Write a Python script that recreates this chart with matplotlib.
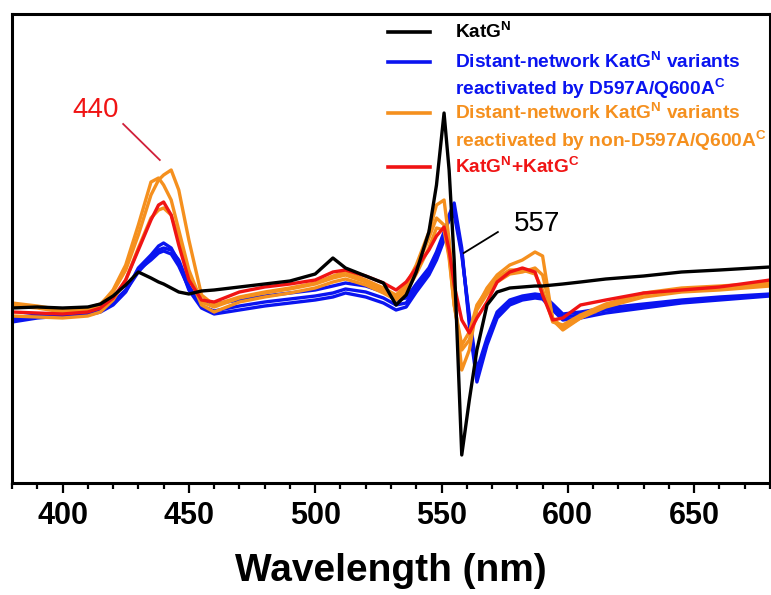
import numpy as np
import matplotlib
matplotlib.use("Agg")
import matplotlib.pyplot as plt

plt.rcParams['font.family'] = ['Liberation Sans', 'DejaVu Sans']
plt.rcParams['mathtext.fontset'] = 'custom'
plt.rcParams['mathtext.rm'] = 'Liberation Sans'
plt.rcParams['mathtext.bf'] = 'Liberation Sans:bold'

# wavelength grid (nm) shared by every trace
wl = [380, 390, 400, 410, 415, 420, 425, 430, 435, 438, 440, 443, 446, 450,
      455, 460, 470, 480, 490, 500, 507, 512, 520, 527, 532, 536, 540, 545,
      548, 551, 553, 555, 558, 561, 564, 568, 572, 577, 582, 587, 590, 594,
      598, 605, 615, 630, 645, 660, 680]

# derivative spectra, arbitrary units
katg_n = [0.02, 0.03, 0.02, 0.03, 0.06, 0.14, 0.25, 0.38, 0.32, 0.28, 0.26, 0.22,
          0.18, 0.16, 0.19, 0.20, 0.23, 0.26, 0.29, 0.36, 0.52, 0.42, 0.34, 0.27,
          0.05, 0.15, 0.38, 0.78, 1.25, 1.97, 1.40, 0.50, -1.45, -0.90, -0.40,
          0.05, 0.18, 0.22, 0.23, 0.24, 0.24, 0.25, 0.26, 0.28, 0.31, 0.34,
          0.38, 0.40, 0.43]

blue_a = [-0.12, -0.08, -0.06, -0.05, -0.02, 0.05, 0.18, 0.42, 0.55, 0.64, 0.67,
          0.62, 0.48, 0.20, 0.02, -0.04, 0.00, 0.04, 0.07, 0.10, 0.13, 0.17, 0.13,
          0.07, 0.00, 0.03, 0.18, 0.35, 0.50, 0.70, 0.95, 1.07, 0.62, -0.15,
          -0.72, -0.35, -0.08, 0.05, 0.10, 0.12, 0.11, 0.00, -0.10, -0.08, -0.03,
          0.02, 0.07, 0.10, 0.14]
blue_b = [-0.08, -0.05, -0.04, -0.02, 0.00, 0.08, 0.20, 0.40, 0.50, 0.57, 0.59,
          0.56, 0.44, 0.22, 0.08, 0.06, 0.10, 0.14, 0.17, 0.20, 0.24, 0.27, 0.24,
          0.18, 0.10, 0.12, 0.26, 0.42, 0.58, 0.78, 0.90, 0.96, 0.55, -0.05,
          -0.60, -0.28, -0.02, 0.10, 0.14, 0.16, 0.15, 0.06, -0.04, -0.02, 0.02,
          0.06, 0.10, 0.13, 0.16]
blue_c = [-0.10, -0.07, -0.05, -0.04, -0.01, 0.06, 0.19, 0.38, 0.52, 0.60, 0.62,
          0.60, 0.50, 0.24, 0.04, -0.01, 0.04, 0.08, 0.11, 0.14, 0.17, 0.21, 0.18,
          0.12, 0.05, 0.07, 0.22, 0.38, 0.54, 0.74, 0.92, 1.00, 0.58, -0.10,
          -0.66, -0.32, -0.05, 0.07, 0.12, 0.14, 0.13, 0.03, -0.07, -0.05, 0.00,
          0.04, 0.08, 0.11, 0.15]

orange_a = [0.07, 0.04, 0.00, 0.02, 0.06, 0.18, 0.40, 0.75, 1.15, 1.30, 1.35, 1.40,
            1.20, 0.70, 0.15, 0.05, 0.13, 0.18, 0.22, 0.27, 0.34, 0.38, 0.30, 0.22,
            0.15, 0.25, 0.45, 0.78, 1.05, 1.10, 0.70, 0.15, -0.60, -0.40, 0.03,
            0.22, 0.35, 0.45, 0.50, 0.58, 0.54, -0.10, -0.20, -0.08, 0.05, 0.17,
            0.22, 0.24, 0.27]
orange_b = [0.04, 0.02, -0.02, 0.00, 0.05, 0.20, 0.45, 0.85, 1.28, 1.32, 1.25, 1.10,
            0.80, 0.40, 0.08, 0.03, 0.12, 0.17, 0.21, 0.26, 0.32, 0.35, 0.28, 0.20,
            0.12, 0.22, 0.42, 0.72, 0.92, 0.85, 0.55, 0.05, -0.35, -0.22, 0.05,
            0.20, 0.32, 0.40, 0.40, 0.36, 0.20, -0.12, -0.15, -0.05, 0.06, 0.16,
            0.21, 0.23, 0.26]
orange_c = [-0.06, -0.07, -0.08, -0.06, -0.02, 0.10, 0.30, 0.62, 0.92, 1.00, 1.02,
            0.95, 0.72, 0.35, 0.05, -0.02, 0.08, 0.13, 0.17, 0.22, 0.28, 0.31, 0.25,
            0.17, 0.10, 0.18, 0.36, 0.62, 0.82, 0.80, 0.52, 0.05, -0.40, -0.30,
            0.00, 0.16, 0.28, 0.36, 0.38, 0.42, 0.35, -0.08, -0.18, -0.08, 0.03,
            0.13, 0.18, 0.20, 0.24]

red_nc = [-0.02, -0.03, -0.04, -0.02, 0.02, 0.12, 0.30, 0.60, 0.90, 1.05, 1.08,
          0.95, 0.65, 0.30, 0.10, 0.08, 0.18, 0.23, 0.26, 0.30, 0.38, 0.40, 0.34,
          0.27, 0.20, 0.28, 0.42, 0.60, 0.74, 0.83, 0.60, 0.25, -0.10, -0.23,
          -0.08, 0.08, 0.28, 0.38, 0.42, 0.38, 0.15, -0.10, -0.08, 0.05, 0.10,
          0.17, 0.20, 0.23, 0.30]

c_black = '#000000'
c_blue = '#0a14f0'
c_orange = '#f5901e'
c_red = '#f01414'

fig = plt.figure(figsize=(7.71, 5.95), dpi=100)
ax = fig.add_axes([12 / 771, 112 / 595, 758 / 771, 469 / 595])

lw = 2.4
for y in (blue_a, blue_b, blue_c):
    ax.plot(wl, y, color=c_blue, lw=lw)
for y in (orange_a, orange_b, orange_c):
    ax.plot(wl, y, color=c_orange, lw=lw)
ax.plot(wl, red_nc, color=c_red, lw=lw)
ax.plot(wl, katg_n, color=c_black, lw=lw)

ax.set_xlim(380, 680)
ax.set_ylim(-1.73, 2.96)
ax.set_xticks(np.arange(400, 651, 50))
ax.set_xticks(np.arange(380, 681, 10), minor=True)
ax.set_yticks([])
ax.tick_params(axis='x', which='major', direction='out', length=7, width=1.6,
               labelsize=22, pad=6)
ax.tick_params(axis='x', which='minor', direction='out', length=4, width=1.6)
for lab in ax.get_xticklabels():
    lab.set_fontweight('bold')
for s in ax.spines.values():
    s.set_linewidth(2.2)
ax.set_xlabel('Wavelength (nm)', fontsize=28, fontweight='bold', labelpad=16)

# peak annotations
ax.text(413, 2.0, '440', color=c_red, fontsize=20, ha='center', va='center')
ax.plot([424, 438.5], [1.86, 1.50], color='#d0203a', lw=1.3)
ax.text(588, 0.86, '557', color=c_black, fontsize=20, ha='center', va='center')
ax.plot([572.3, 558.8], [0.78, 0.57], color=c_black, lw=1.3)

# legend drawn by hand so multi-line labels keep the handle on the first line
leg = [
    (c_black, r'KatG$^{\mathbf{N}}$', 0.962, [0.962]),
    (c_blue, 'Distant-network KatG$^{\\mathbf{N}}$ variants\nreactivated by D597A/Q600A$^{\\mathbf{C}}$',
     0.898, [0.898, 0.842]),
    (c_orange, 'Distant-network KatG$^{\\mathbf{N}}$ variants\nreactivated by non-D597A/Q600A$^{\\mathbf{C}}$',
     0.789, [0.789, 0.729]),
    (c_red, r'KatG$^{\mathbf{N}}$+KatG$^{\mathbf{C}}$', 0.674, [0.674]),
]
for col, txt, yh, rows in leg:
    ax.plot([0.496, 0.551], [yh, yh], color=col, lw=2.6, transform=ax.transAxes,
            clip_on=False)
    for line, yr in zip(txt.split('\n'), rows):
        ax.text(0.584, yr, line, color=col, fontsize=13.8, fontweight='bold',
                transform=ax.transAxes, va='center', ha='left', clip_on=False)

fig.savefig('out.png', dpi=100)
